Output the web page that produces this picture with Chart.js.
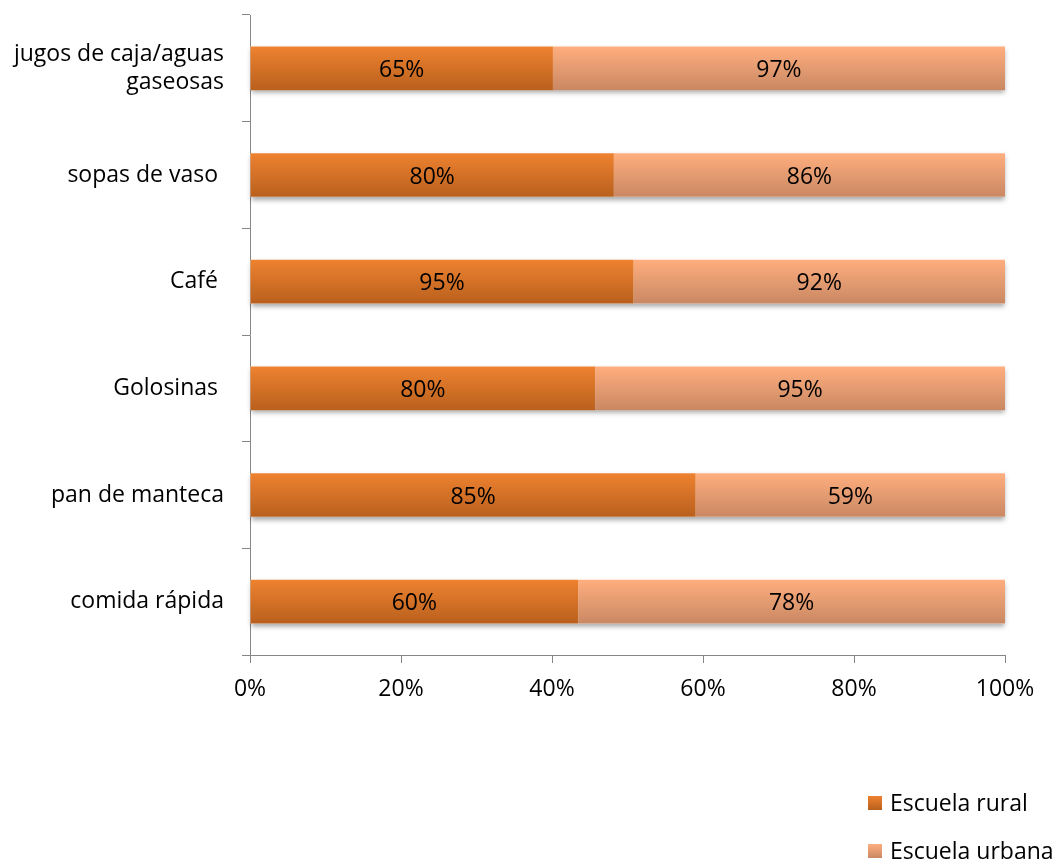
<!DOCTYPE html>
<html>
<head>
<meta charset="utf-8">
<script src="https://cdn.jsdelivr.net/npm/chart.js@4/dist/chart.umd.min.js"></script>
<style>
  body { margin: 0; background: #fff; }
  #wrap { position: relative; width: 1057px; height: 863px; }
  #legend { position: absolute; left: 868px; top: 786px; font: 23px "Open Sans", sans-serif; color: #000; }
  #legend div { height: 48px; display: flex; align-items: flex-start; }
  #legend span.box { display: inline-block; width: 14px; height: 14px; margin: 10px 8px 0 0; }
</style>
</head>
<body>
<div id="wrap">
  <canvas id="chart" width="1057" height="863"></canvas>
  <div id="legend"></div>
</div>
<script>
const categories = ['jugos de caja/aguas\ngaseosas', 'sopas de vaso ', 'Café ', 'Golosinas ', 'pan de manteca', 'comida rápida'];
const rural = [65, 80, 95, 80, 85, 60];
const urbana = [97, 86, 92, 95, 59, 78];
const seriesNames = ['Escuela rural', 'Escuela urbana'];
const xTicks = [0, 20, 40, 60, 80, 100];

// 100% stacked: each bar is split by its share of the row total
const share = (a, b) => a.map((v, i) => v / (v + b[i]) * 100);

const fillColors = [['#EE8230', '#B9601D'], ['#FFAE7E', '#C98863']];
const FONT = '"Open Sans", sans-serif';
const FONT_SIZE = 23;

function barGradient(ctx, stops) {
  const chart = ctx.chart;
  const y = chart.scales.y;
  if (!chart.chartArea || !y) return stops[0];
  const cy = y.getPixelForValue(ctx.dataIndex);
  const half = y.getPixelForValue(1) - y.getPixelForValue(0);
  const h = Math.abs(half) * 0.41 / 2;
  const g = chart.ctx.createLinearGradient(0, cy - h, 0, cy + h);
  g.addColorStop(0, stops[0]);
  g.addColorStop(1, stops[1]);
  return g;
}

// soft shadow under each full bar, then value labels on the segments
const barExtras = {
  id: 'barExtras',
  beforeDatasetsDraw(chart) {
    const ctx = chart.ctx;
    const first = chart.getDatasetMeta(0).data;
    const last = chart.getDatasetMeta(1).data;
    ctx.save();
    ctx.shadowColor = 'rgba(0,0,0,0.35)';
    ctx.shadowBlur = 5;
    ctx.shadowOffsetY = 3;
    ctx.fillStyle = '#fff';
    first.forEach((bar, i) => {
      const x0 = bar.base, x1 = last[i].x;
      ctx.fillRect(x0, bar.y - bar.height / 2, x1 - x0, bar.height);
    });
    ctx.restore();
  },
  afterDatasetsDraw(chart) {
    const ctx = chart.ctx;
    ctx.save();
    ctx.font = FONT_SIZE + 'px ' + FONT;
    ctx.fillStyle = '#000';
    ctx.textAlign = 'center';
    ctx.textBaseline = 'middle';
    [rural, urbana].forEach((vals, d) => {
      chart.getDatasetMeta(d).data.forEach((bar, i) => {
        ctx.fillText(vals[i] + '%', (bar.base + bar.x) / 2, bar.y + 2);
      });
    });
    ctx.restore();
  }
};

const chart = new Chart(document.getElementById('chart'), {
  type: 'bar',
  data: {
    labels: categories.map(c => c.split('\n')),
    datasets: [
      { label: seriesNames[0], data: share(rural, urbana), backgroundColor: c => barGradient(c, fillColors[0]) },
      { label: seriesNames[1], data: share(urbana, rural), backgroundColor: c => barGradient(c, fillColors[1]) }
    ]
  },
  options: {
    indexAxis: 'y',
    responsive: false,
    animation: false,
    categoryPercentage: 1,
    barPercentage: 0.41,
    layout: { padding: { top: 15, right: 52, bottom: 148, left: 0 } },
    plugins: { legend: { display: false }, tooltip: { enabled: false } },
    scales: {
      x: {
        stacked: true,
        min: 0,
        max: 100,
        afterFit: s => { s.height = 60; s.paddingLeft = 0; s.paddingRight = 0; },
        afterBuildTicks: s => { s.ticks = xTicks.map(v => ({ value: v })); },
        border: { color: '#868686', width: 1 },
        grid: { drawOnChartArea: false, color: '#868686', tickLength: 8 },
        ticks: { padding: 13, color: '#000', font: { family: FONT, size: FONT_SIZE }, callback: v => v + '%' }
      },
      y: {
        stacked: true,
        afterFit: s => { s.width = 250; s.paddingTop = 0; s.paddingBottom = 0; },
        border: { color: '#868686', width: 1 },
        grid: { drawOnChartArea: false, color: '#868686', tickLength: 8, offset: true },
        ticks: { padding: 18, color: '#000', font: { family: FONT, size: FONT_SIZE, lineHeight: 1.25 } }
      }
    }
  },
  plugins: [barExtras]
});

// legend stacked at the lower right
const legend = document.getElementById('legend');
seriesNames.forEach((name, i) => {
  const row = document.createElement('div');
  const box = document.createElement('span');
  box.className = 'box';
  box.style.background = `linear-gradient(${fillColors[i][0]}, ${fillColors[i][1]})`;
  row.appendChild(box);
  row.appendChild(document.createTextNode(name));
  legend.appendChild(row);
});
</script>
</body>
</html>
